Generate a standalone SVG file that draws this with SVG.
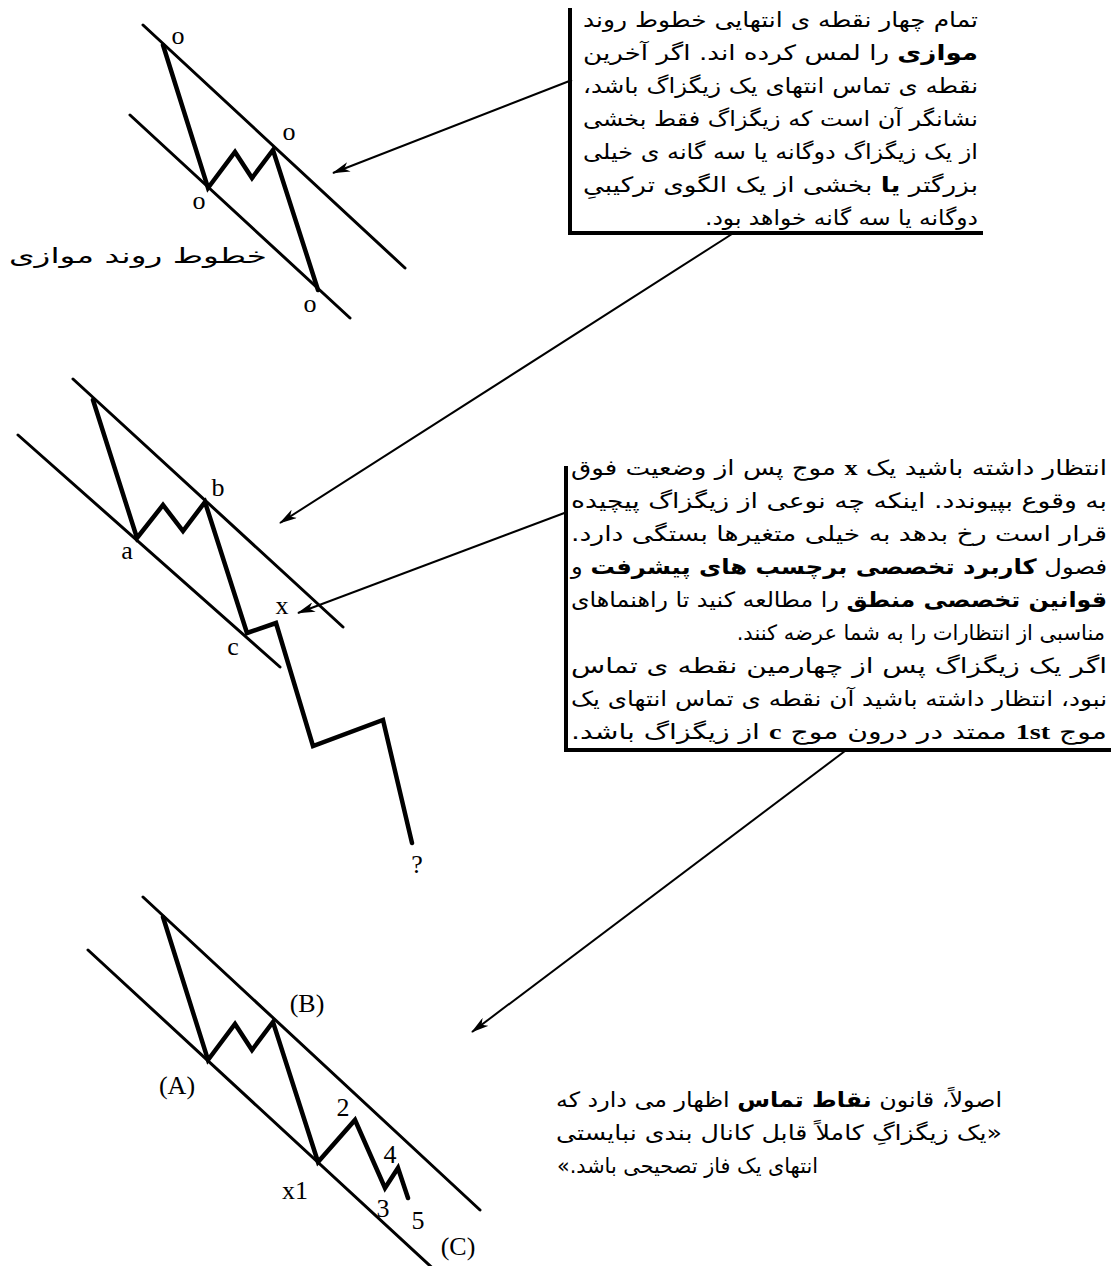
<svg xmlns="http://www.w3.org/2000/svg" width="1111" height="1266" viewBox="0 0 1111 1266">
<style>
.ch{stroke:#000;stroke-width:3;fill:none;stroke-linecap:round}
.zz{stroke:#000;stroke-width:4.5;fill:none;stroke-linejoin:miter;stroke-linecap:round}
.cn{stroke:#000;stroke-width:2;fill:none}
.bx{stroke:#000;stroke-width:4;fill:none}
.lb{font-family:"Liberation Serif",serif;font-size:26px;fill:#000;text-anchor:middle}
.ol{font-family:"Liberation Serif",serif;font-size:26px;fill:#000;text-anchor:middle}
.fa{font-family:"DejaVu Sans",sans-serif;font-size:21px;fill:#000;direction:rtl;unicode-bidi:embed}
.b{font-weight:bold}
.sr{font-family:"Liberation Serif",serif;font-weight:bold}
</style>
<defs>
<marker id="ah" viewBox="0 0 18 10" refX="17" refY="5" markerWidth="18" markerHeight="10" markerUnits="userSpaceOnUse" orient="auto">
<path d="M0,0 L18,5 L0,10 L5,5 Z" fill="#000"/>
</marker>
</defs>
<rect width="1111" height="1266" fill="#fff"/>

<g id="node-top-diagram">
<line class="ch" x1="143" y1="25" x2="405" y2="268"/>
<line class="ch" x1="130" y1="115" x2="350" y2="318"/>
<polyline class="zz" points="163,45 208,188 235,152 252,178 273,150 318,290"/>
<text class="ol" x="178" y="44">o</text>
<text class="ol" x="289" y="140">o</text>
<text class="ol" x="199" y="209">o</text>
<text class="ol" x="310" y="312">o</text>
<text class="fa" x="267" y="263" font-size="22" textLength="258" lengthAdjust="spacingAndGlyphs" direction="rtl">خطوط روند موازی</text>
</g>

<g id="node-mid-diagram">
<line class="ch" x1="73" y1="379" x2="343" y2="627"/>
<line class="ch" x1="18" y1="435" x2="280" y2="667"/>
<polyline class="zz" points="93,400 137,538 163,505 183,531 205,502 247,633 276,623 313,746 383,720 412,843"/>
<text class="lb" x="218" y="496">b</text>
<text class="lb" x="127" y="559">a</text>
<text class="lb" x="233" y="655">c</text>
<text class="lb" x="282" y="614">x</text>
<text class="lb" x="417" y="873">?</text>
</g>

<g id="node-bottom-diagram">
<line class="ch" x1="143" y1="897" x2="480" y2="1210"/>
<line class="ch" x1="88" y1="950" x2="440" y2="1275"/>
<polyline class="zz" points="163,917 208,1060 235,1024 252,1050 273,1022 318,1162 355,1120 385,1188 398,1168 408,1198"/>
<text class="lb" x="307" y="1012">(B)</text>
<text class="lb" x="177" y="1094">(A)</text>
<text class="lb" x="343" y="1116">2</text>
<text class="lb" x="390" y="1163">4</text>
<text class="lb" x="295" y="1199">x1</text>
<text class="lb" x="383" y="1217">3</text>
<text class="lb" x="418" y="1229">5</text>
<text class="lb" x="458" y="1255">(C)</text>
</g>

<g id="node-top-note">
<polyline class="bx" points="570,8 570,233 983,233"/>
<text class="fa" direction="rtl" x="978" y="27" textLength="395" lengthAdjust="spacingAndGlyphs">تمام چهار نقطه ی انتهایی خطوط روند</text>
<text class="fa" direction="rtl" x="978" y="60" textLength="395" lengthAdjust="spacingAndGlyphs"><tspan class="b">موازی</tspan> را لمس کرده اند. اگر آخرین</text>
<text class="fa" direction="rtl" x="978" y="93" textLength="395" lengthAdjust="spacingAndGlyphs">نقطه ی تماس انتهای یک زیگزاگ باشد،</text>
<text class="fa" direction="rtl" x="978" y="126" textLength="395" lengthAdjust="spacingAndGlyphs">نشانگر آن است که زیگزاگ فقط بخشی</text>
<text class="fa" direction="rtl" x="978" y="159" textLength="395" lengthAdjust="spacingAndGlyphs">از یک زیگزاگ دوگانه یا سه گانه ی خیلی</text>
<text class="fa" direction="rtl" x="978" y="192" textLength="395" lengthAdjust="spacingAndGlyphs">بزرگتر <tspan class="b">یا</tspan> بخشی از یک الگوی ترکیبیِ</text>
<text class="fa" direction="rtl" x="978" y="225" textLength="273" lengthAdjust="spacingAndGlyphs">دوگانه یا سه گانه خواهد بود.</text>
</g>

<g id="node-mid-note">
<polyline class="bx" points="566,466 566,750 1111,750"/>
<text class="fa" direction="rtl" x="1107" y="475" textLength="536" lengthAdjust="spacingAndGlyphs">انتظار داشته باشید یک <tspan class="sr">x</tspan> موج پس از وضعیت فوق</text>
<text class="fa" direction="rtl" x="1107" y="508" textLength="536" lengthAdjust="spacingAndGlyphs">به وقوع بپیوندد. اینکه چه نوعی از زیگزاگ پیچیده</text>
<text class="fa" direction="rtl" x="1107" y="541" textLength="536" lengthAdjust="spacingAndGlyphs">قرار است رخ بدهد به خیلی متغیرها بستگی دارد.</text>
<text class="fa" direction="rtl" x="1107" y="574" textLength="536" lengthAdjust="spacingAndGlyphs">فصول <tspan class="b">کاربرد تخصصی برچسب های پیشرفت</tspan> و</text>
<text class="fa" direction="rtl" x="1107" y="607" textLength="536" lengthAdjust="spacingAndGlyphs"><tspan class="b">قوانین تخصصی منطق</tspan> را مطالعه کنید تا راهنماهای</text>
<text class="fa" direction="rtl" x="1105" y="640" font-size="19">مناسبی از انتظارات را به شما عرضه کنند.</text>
<text class="fa" direction="rtl" x="1107" y="673" textLength="536" lengthAdjust="spacingAndGlyphs">اگر یک زیگزاگ پس از چهارمین نقطه ی تماس</text>
<text class="fa" direction="rtl" x="1107" y="706" textLength="536" lengthAdjust="spacingAndGlyphs">نبود، انتظار داشته باشید آن نقطه ی تماس انتهای یک</text>
<text class="fa" direction="rtl" x="1107" y="739" textLength="536" lengthAdjust="spacingAndGlyphs">موج <tspan class="sr">1st</tspan> ممتد در درون موج <tspan class="sr">c</tspan> از زیگزاگ باشد.</text>
</g>

<g id="node-bottom-note">
<text class="fa" direction="rtl" x="1002" y="1107" textLength="446" lengthAdjust="spacingAndGlyphs">اصولاً، قانون <tspan class="b">نقاط تماس</tspan> اظهار می دارد که</text>
<text class="fa" direction="rtl" x="1002" y="1140" textLength="446" lengthAdjust="spacingAndGlyphs">«یک زیگزاگِ کاملاً قابل کانال بندی نبایستی</text>
<text class="fa" direction="rtl" x="557" y="1173" text-anchor="end" textLength="261" lengthAdjust="spacingAndGlyphs">انتهای یک فاز تصحیحی باشد.»</text>
</g>

<g id="connectors">
<line class="cn" x1="572" y1="80" x2="333" y2="173" marker-end="url(#ah)"/>
<line class="cn" x1="732" y1="234" x2="280" y2="523" marker-end="url(#ah)"/>
<line class="cn" x1="567" y1="512" x2="298" y2="613" marker-end="url(#ah)"/>
<line class="cn" x1="845" y1="751" x2="472" y2="1032" marker-end="url(#ah)"/>
</g>
</svg>
